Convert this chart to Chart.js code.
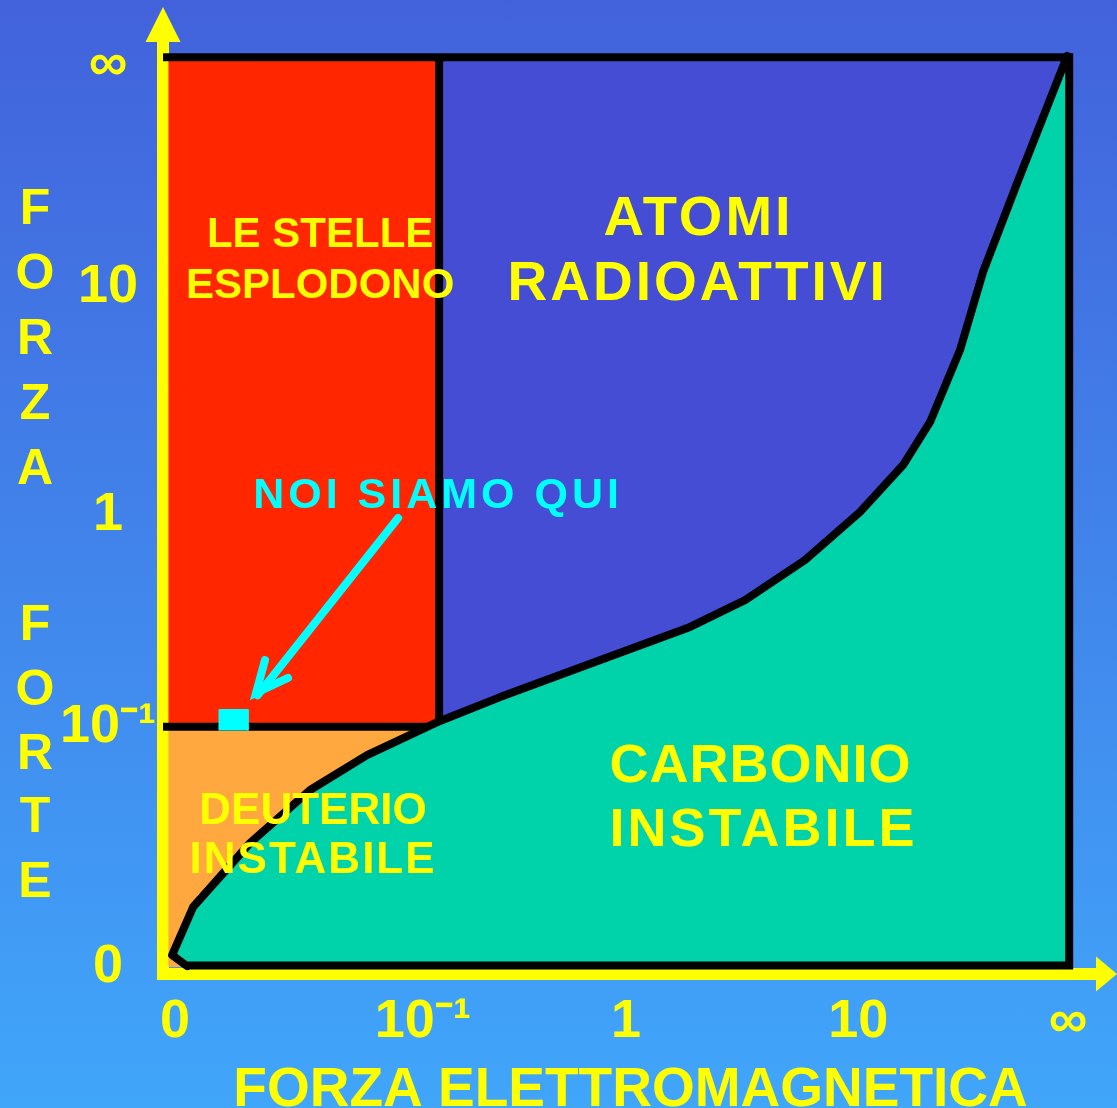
<!DOCTYPE html>
<html>
<head>
<meta charset="utf-8">
<script src="https://cdn.jsdelivr.net/npm/chart.js@4.4.0/dist/chart.umd.min.js"></script>
<style>
  html, body { margin: 0; padding: 0; }
  body {
    width: 1117px; height: 1108px; overflow: hidden;
    background: linear-gradient(to bottom, #4262DB, #40A6FA);
  }
  canvas { display: block; }
</style>
</head>
<body>
<canvas id="chart" width="1117" height="1108"></canvas>
<script>
// tick positions in "decade" units
const xTickPos = [0, 1.11, 2.02, 3.06, 4];
const xTickLabels = ['0', '10⁻¹', '1', '10', '∞'];
const yTickPos = [0, 1.064, 2.004, 3.015, 4];
const yTickLabels = ['0', '10⁻¹', '1', '10', '∞'];

// boundary curve (carbonio instabile below it)
const curveX = [0.054, -0.013, 0.081, 0.336, 0.605, 0.860, 1.187, 1.456, 1.881, 2.307, 2.553, 2.822, 3.068, 3.261, 3.382, 3.516, 3.619, 3.772, 3.996];
const curveY = [0.004, 0.053, 0.266, 0.550, 0.785, 0.940, 1.091, 1.197, 1.353, 1.508, 1.627, 1.805, 2.018, 2.226, 2.417, 2.736, 3.082, 3.477, 4.040];

// region limits
const boxLeft = -0.027, boxRight = 4.005, boxTop = 4.035, boxBottom = 0.007;
const splitX = 1.183;   // red | blue edge
const splitY = 1.066;   // the 10^-1 line

// "noi siamo qui" marker and arrow
const hereX = [0.197, 0.327];
const hereY = [1.049, 1.142];
const arrowX = [0.999, 0.370];
const arrowY = [1.991, 1.205];
const headX = [0.403, 0.363, 0.506];
const headY = [1.361, 1.215, 1.282];

const YELLOW = '#FFFF00';
const CYAN = '#00FFFF';
const FONT = '"Liberation Sans", Arial, sans-serif';

const pts = (xs, ys) => xs.map((x, i) => ({ x, y: ys[i] }));
const rect = (x0, x1, y0, y1) => [{x: x0, y: y0}, {x: x0, y: y1}, {x: x1, y: y1}, {x: x1, y: y0}];

const curve = pts(curveX, curveY);

function area(data, color, order) {
  return { data, showLine: true, fill: 'shape', backgroundColor: color, borderColor: color,
           borderWidth: 1, pointRadius: 0, order };
}
function stroke(data, color, width, order, extra) {
  return Object.assign({ data, showLine: true, fill: false, borderColor: color, borderWidth: width,
           pointRadius: 0, borderCapStyle: 'butt', borderJoinStyle: 'miter', order }, extra || {});
}

const labels = [
  { text: 'LE STELLE', x: 0.650, y: 3.259, size: 42, sp: 0, color: YELLOW },
  { text: 'ESPLODONO', x: 0.650, y: 3.033, size: 42, sp: 0, color: YELLOW },
  { text: 'ATOMI', x: 2.338, y: 3.335, size: 56, sp: 3, color: YELLOW },
  { text: 'RADIOATTIVI', x: 2.334, y: 3.047, size: 55, sp: 3, color: YELLOW },
  { text: 'NOI SIAMO QUI', x: 1.169, y: 2.106, size: 43, sp: 4, color: CYAN },
  { text: 'CARBONIO', x: 2.620, y: 0.905, size: 54, sp: 1, color: YELLOW },
  { text: 'INSTABILE', x: 2.629, y: 0.621, size: 54, sp: 3, color: YELLOW },
  { text: 'DEUTERIO', x: 0.618, y: 0.705, size: 44, sp: 0, color: YELLOW },
  { text: 'INSTABILE', x: 0.614, y: 0.488, size: 44, sp: 2, color: YELLOW }
];
const yTitle = ['F', 'O', 'R', 'Z', 'A', '', 'F', 'O', 'R', 'T', 'E'];
const yTitleTop = [206, 271, 336, 401, 466, 0, 622, 687, 751, 814, 879];

const decor = {
  id: 'decor',
  afterDatasetsDraw(chart) {
    const { ctx, scales: { x, y } } = chart;
    ctx.save();
    ctx.textAlign = 'center';
    ctx.textBaseline = 'alphabetic';
    labels.forEach(l => {
      ctx.font = 'bold ' + l.size + 'px ' + FONT;
      ctx.letterSpacing = l.sp + 'px';
      ctx.fillStyle = l.color;
      // letterSpacing adds space after the last glyph too; shift back by half of it
      ctx.fillText(l.text, x.getPixelForValue(l.x) + l.sp / 2, y.getPixelForValue(l.y) + l.size * 0.36);
    });
    ctx.letterSpacing = '0px';
    ctx.restore();
  },
  afterDraw(chart) {
    const { ctx, chartArea: a } = chart;
    ctx.save();
    ctx.fillStyle = YELLOW;
    // arrow heads on both axes
    ctx.beginPath();
    ctx.moveTo(a.left, 7);
    ctx.lineTo(a.left - 17.5, 42);
    ctx.lineTo(a.left + 17.5, 42);
    ctx.closePath();
    ctx.fill();
    ctx.beginPath();
    ctx.moveTo(1117, a.bottom);
    ctx.lineTo(a.right - 2, a.bottom - 17.5);
    ctx.lineTo(a.right - 2, a.bottom + 17.5);
    ctx.closePath();
    ctx.fill();
    ctx.fillRect(a.left - 6, a.bottom - 6, 12, 12);
    ctx.fillRect(a.left, a.top - 2, 6, 4);
    // vertical axis title, one letter per row
    ctx.font = 'bold 50px ' + FONT;
    ctx.textAlign = 'center';
    ctx.textBaseline = 'alphabetic';
    yTitle.forEach((c, i) => {
      if (c) ctx.fillText(c, 35, yTitleTop[i] + 18);
    });
    ctx.restore();
  }
};

new Chart(document.getElementById('chart'), {
  type: 'scatter',
  data: {
    datasets: [
      area(rect(splitX, boxRight, boxBottom, boxTop), '#444DD4', 20),
      area(rect(boxLeft, splitX, splitY, boxTop), '#FF2600', 19),
      area(rect(boxLeft, splitX, 0, splitY), '#FFA840', 18),
      area(curve.concat([{x: boxRight, y: boxTop}, {x: boxRight, y: boxBottom}, {x: 0.054, y: boxBottom}]), '#00D2AA', 17),
      area(rect(hereX[0], hereX[1], hereY[0], hereY[1]), CYAN, 5),
      stroke([{x: -0.06, y: boxTop}, {x: boxRight, y: boxTop}, {x: boxRight, y: boxBottom}, {x: 0.054, y: boxBottom}], '#000', 8, 8),
      stroke([{x: splitX, y: boxTop}, {x: splitX, y: 1.09}], '#000', 8, 8),
      stroke([{x: -0.06, y: splitY}, {x: 1.133, y: splitY}], '#000', 8, 8),
      stroke([{x: -0.087, y: 0}, {x: -0.087, y: 1.09}], '#000', 3, 8),
      stroke(curve, '#000', 8, 7, { borderJoinStyle: 'round', borderCapStyle: 'round' }),
      stroke(pts(arrowX, arrowY), CYAN, 8, 2, { borderCapStyle: 'round' }),
      stroke(pts(headX, headY), CYAN, 8, 2, { borderCapStyle: 'round' })
    ]
  },
  options: {
    responsive: false,
    animation: false,
    events: [],
    layout: { padding: { top: 40, right: 19, left: 0, bottom: 0 } },
    plugins: { legend: { display: false }, tooltip: { enabled: false } },
    elements: { line: { tension: 0 } },
    scales: {
      x: {
        type: 'linear',
        min: -0.0538,
        max: 4.134,
        z: 1,
        afterBuildTicks: axis => { axis.ticks = xTickPos.map(v => ({ value: v })); },
        afterFit: axis => { axis.height = 134; },
        grid: { display: false, drawTicks: false },
        border: { display: true, color: YELLOW, width: 12 },
        ticks: {
          autoSkip: false, maxRotation: 0, minRotation: 0, padding: 16,
          color: YELLOW,
          font: { family: FONT, size: 54, weight: 'bold' },
          callback: (v, i) => xTickLabels[i]
        },
        title: {
          display: true,
          text: 'FORZA ELETTROMAGNETICA',
          color: YELLOW,
          padding: 0,
          font: { family: FONT, size: 55, weight: 'bold', lineHeight: 0.62 }
        }
      },
      y: {
        type: 'linear',
        min: -0.031,
        max: 4.111,
        z: 1,
        afterBuildTicks: axis => { axis.ticks = yTickPos.map(v => ({ value: v })); },
        afterFit: axis => { axis.width = 163; },
        grid: { display: false, drawTicks: false },
        border: { display: true, color: YELLOW, width: 12 },
        ticks: {
          autoSkip: false, crossAlign: 'center', padding: 7,
          color: YELLOW,
          font: { family: FONT, size: 54, weight: 'bold' },
          callback: (v, i) => yTickLabels[i]
        }
      }
    }
  },
  plugins: [decor]
});
</script>
</body>
</html>
